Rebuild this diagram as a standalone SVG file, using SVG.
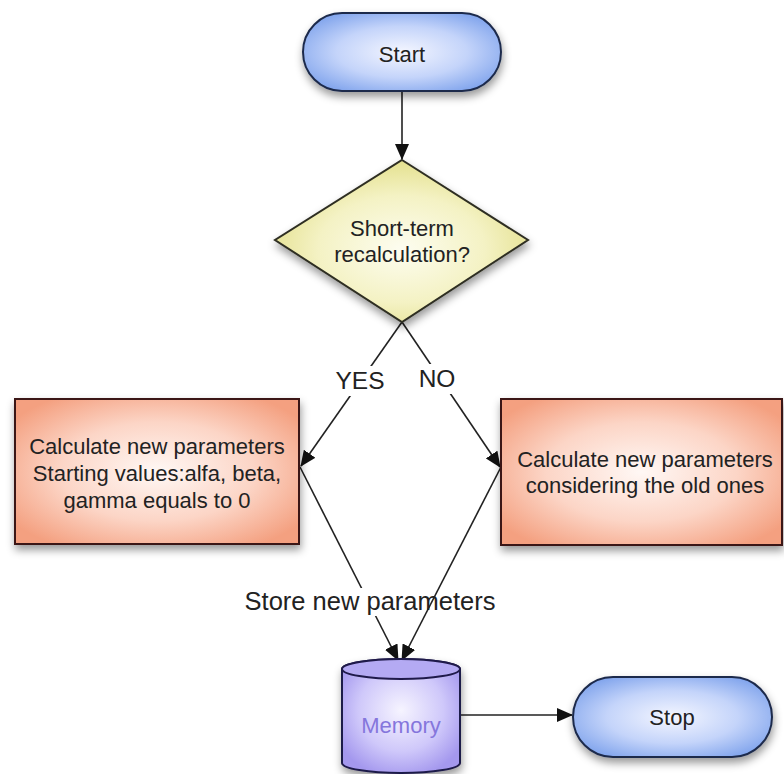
<svg xmlns="http://www.w3.org/2000/svg" width="784" height="774" viewBox="0 0 784 774">
  <defs>
    <radialGradient id="gBlue" cx="50%" cy="50%" r="60%">
      <stop offset="0" stop-color="#f4f6ff"/>
      <stop offset="0.55" stop-color="#c4d4fa"/>
      <stop offset="1" stop-color="#7fa3ec"/>
    </radialGradient>
    <radialGradient id="gYellow" cx="50%" cy="55%" r="55%">
      <stop offset="0" stop-color="#fdfdf0"/>
      <stop offset="0.6" stop-color="#f4f2c4"/>
      <stop offset="1" stop-color="#e4e08e"/>
    </radialGradient>
    <radialGradient id="gSalmon" cx="50%" cy="50%" r="62%">
      <stop offset="0" stop-color="#fff8f5"/>
      <stop offset="0.55" stop-color="#fcd5c6"/>
      <stop offset="1" stop-color="#f4a080"/>
    </radialGradient>
    <radialGradient id="gViolet" cx="50%" cy="45%" r="60%">
      <stop offset="0" stop-color="#f6f4ff"/>
      <stop offset="0.6" stop-color="#cfc8fa"/>
      <stop offset="1" stop-color="#a498ee"/>
    </radialGradient>
    <filter id="shadow" x="-20%" y="-20%" width="140%" height="150%">
      <feDropShadow dx="1" dy="5" stdDeviation="4" flood-color="#000" flood-opacity="0.4"/>
    </filter>
    <marker id="arrow" markerUnits="userSpaceOnUse" markerWidth="16" markerHeight="14" viewBox="0 0 16 14" refX="15" refY="7" orient="auto">
      <path d="M0,0 L16,7 L0,14 Z" fill="#111"/>
    </marker>
  </defs>
  <style>
    .lbl { font-family: "Liberation Sans", Arial, Helvetica, sans-serif; fill: #222; text-anchor: middle; }
    .node { font-size: 22px; }
    .edge { font-size: 24.5px; }
    .store { font-size: 25.5px; }
    .conn { stroke: #222; stroke-width: 1.6; fill: none; }
  </style>

  <!-- connectors -->
  <g id="connectors">
    <line class="conn" x1="402" y1="92" x2="402" y2="159" marker-end="url(#arrow)"/>
    <line class="conn" x1="402" y1="322" x2="301" y2="466" marker-end="url(#arrow)"/>
    <line class="conn" x1="402" y1="322" x2="500" y2="467" marker-end="url(#arrow)"/>
    <line class="conn" x1="300" y1="467" x2="398" y2="660" marker-end="url(#arrow)"/>
    <!-- YES / NO / store labels sit on white patches over their lines -->
    <rect x="333" y="366" width="55" height="30" fill="#fff"/>
    <text class="lbl edge" x="360" y="389">YES</text>
    <rect x="416" y="364" width="44" height="30" fill="#fff"/>
    <text class="lbl edge" x="437" y="387">NO</text>
    <rect x="340" y="588" width="58" height="28" fill="#fff"/>
    <text class="lbl store" x="370" y="610">Store new parameters</text>
    <line class="conn" x1="501" y1="467" x2="402" y2="660" marker-end="url(#arrow)"/>
    <line class="conn" x1="461" y1="715" x2="572" y2="715" marker-end="url(#arrow)"/>
  </g>

  <!-- Start terminator -->
  <g id="start">
    <rect x="303" y="13" width="198" height="78" rx="39" ry="39" fill="url(#gBlue)" stroke="#1c2a4c" stroke-width="2" filter="url(#shadow)"/>
    <text class="lbl node" x="402" y="62">Start</text>
  </g>

  <!-- decision -->
  <g id="decision">
    <polygon points="402,160 528,240 402,322 275,240" fill="url(#gYellow)" stroke="#2e2e22" stroke-width="2" filter="url(#shadow)"/>
    <text class="lbl node" x="402" y="236">Short-term</text>
    <text class="lbl node" x="402" y="262">recalculation?</text>
  </g>

  <!-- YES branch process -->
  <g id="calc-new">
    <rect x="15" y="399" width="284" height="145" fill="url(#gSalmon)" stroke="#3a1812" stroke-width="2" filter="url(#shadow)"/>
    <text class="lbl node" x="157" y="454">Calculate new parameters</text>
    <text class="lbl node" x="157" y="481">Starting values:alfa, beta,</text>
    <text class="lbl node" x="157" y="508">gamma equals to 0</text>
  </g>

  <!-- NO branch process -->
  <g id="calc-old">
    <rect x="501" y="399" width="281" height="146" fill="url(#gSalmon)" stroke="#3a1812" stroke-width="2" filter="url(#shadow)"/>
    <text class="lbl node" x="645" y="467">Calculate new parameters</text>
    <text class="lbl node" x="645" y="493">considering the old ones</text>
  </g>

  <!-- Memory storage -->
  <g id="memory">
    <path d="M342,669 L342,763 A59,10 0 0 0 460,763 L460,669 A59,10 0 0 0 342,669 Z" fill="url(#gViolet)" stroke="#1f1a4a" stroke-width="2" filter="url(#shadow)"/>
    <ellipse cx="401" cy="669" rx="59" ry="10" fill="#b4aaf3" stroke="#1f1a4a" stroke-width="2"/>
    <text class="lbl node" x="401" y="733" style="fill:#8576dc">Memory</text>
  </g>

  <!-- Stop terminator -->
  <g id="stop">
    <rect x="573" y="677" width="199" height="80" rx="40" ry="40" fill="url(#gBlue)" stroke="#1c2a4c" stroke-width="2" filter="url(#shadow)"/>
    <text class="lbl node" x="672" y="725">Stop</text>
  </g>
</svg>
